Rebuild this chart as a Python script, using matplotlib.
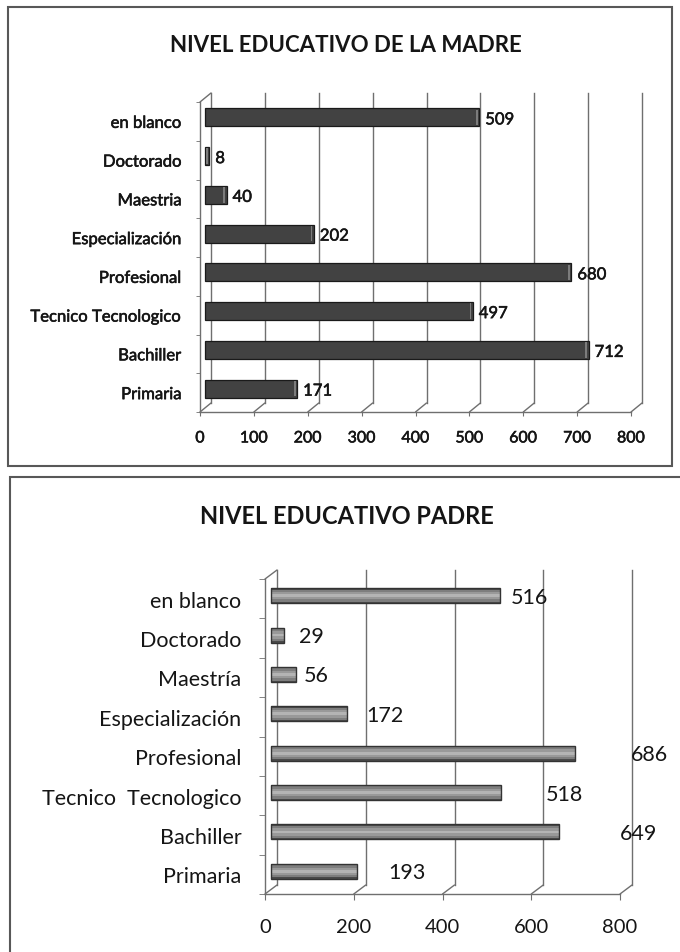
import matplotlib.pyplot as plt
import matplotlib.transforms as mtransforms
import matplotlib.patheffects as pe
from matplotlib.patches import Rectangle

plt.rcParams['font.family'] = ['Lato', 'DejaVu Sans']

# Data (bottom to top)
categories_madre = ['Primaria', 'Bachiller', 'Tecnico Tecnologico', 'Profesional',
                    'Especialización', 'Maestria', 'Doctorado', 'en blanco']
values_madre = [171, 712, 497, 680, 202, 40, 8, 509]
ticks_madre = [0, 100, 200, 300, 400, 500, 600, 700, 800]

categories_padre = ['Primaria', 'Bachiller', 'Tecnico  Tecnologico', 'Profesional',
                    'Especialización', 'Maestría', 'Doctorado', 'en blanco']
values_padre = [193, 649, 518, 686, 172, 56, 29, 516]
ticks_padre = [0, 200, 400, 600, 800]

# the father chart has its value labels pushed away from the bars (pixels)
label_gap_padre = [32, 61, 45, 55, 19, 8, 15, 11]

W, H = 680, 953
fig = plt.figure(figsize=(W / 100, H / 100), dpi=100)
fig.patch.set_facecolor('white')
TXT = '#151515'
GRID = '#6f6f6f'
# the mother chart text is heavy, thicken regular glyphs a bit
HEAVY = [pe.withStroke(linewidth=0.4, foreground=TXT)]


def px_box(l, t, r, b):
    # pixel box (top-left origin) -> figure fraction
    return [l / W, 1 - b / H, (r - l) / W, (b - t) / H]


def shift(ax, dx, dy):
    # offset in pixels, used for the fake 3D depth
    return ax.transData + mtransforms.ScaledTranslation(dx / 100, dy / 100, fig.dpi_scale_trans)


def panel(box, cats, ticks, depth, fs_cat, fs_tick, effects, ypad, xpad, tick_len):
    ax = fig.add_axes(px_box(*box))
    n = len(cats)
    ax.set_xlim(0, ticks[-1])
    ax.set_ylim(-0.5, n - 0.5)
    ax.patch.set_alpha(0)
    for s in ['top', 'right']:
        ax.spines[s].set_visible(False)
    for s in ['left', 'bottom']:
        ax.spines[s].set_color(GRID)
        ax.spines[s].set_linewidth(1.0)

    dx, dy = depth
    # back wall gridlines
    for v in ticks:
        ax.plot([v, v], [-0.5, n - 0.5], color=GRID, lw=1.0, transform=shift(ax, dx, dy),
                clip_on=False, zorder=1)
        # floor diagonals from front ticks to back wall
        ax.annotate('', xy=(v, -0.5), xytext=(dx, dy), textcoords='offset pixels',
                    arrowprops=dict(arrowstyle='-', color=GRID, lw=1.0, shrinkA=0, shrinkB=0),
                    annotation_clip=False)
    ax.annotate('', xy=(0, n - 0.5), xytext=(dx, dy), textcoords='offset pixels',
                arrowprops=dict(arrowstyle='-', color=GRID, lw=1.0, shrinkA=0, shrinkB=0),
                annotation_clip=False)

    ax.set_yticks(range(n))
    ax.set_yticklabels(cats, fontsize=fs_cat, color=TXT, path_effects=effects)
    ax.set_yticks([i - 0.5 for i in range(n + 1)], minor=True)
    ax.tick_params(axis='y', which='major', length=0, pad=ypad)
    ax.tick_params(axis='y', which='minor', length=tick_len, color=GRID, direction='out')
    ax.set_xticks(ticks)
    ax.set_xticklabels([str(t) for t in ticks], fontsize=fs_tick, color=TXT, path_effects=effects)
    ax.tick_params(axis='x', length=tick_len, color=GRID, pad=xpad)
    return ax


# ---------------- top chart: madre ----------------
fig.add_artist(Rectangle((8 / W, 1 - 467 / H), 664 / W, 459 / H, transform=fig.transFigure,
                         fill=False, ec='#585858', lw=1.5))
fig.text(346 / W, 1 - 45 / H, 'NIVEL EDUCATIVO DE LA MADRE', ha='center', va='center',
         fontsize=16, weight='bold', color=TXT)

ax1 = panel((200, 103, 631, 413), categories_madre, ticks_madre, (11, 9),
            12, 11.5, HEAVY, 13.5, 11, 3)
yb = list(range(len(values_madre)))
ax1.barh(yb, values_madre, height=0.46, color='#424242', edgecolor='#1a1a1a', lw=0.9,
         transform=shift(ax1, 5, 4), zorder=3)
ax1.barh(yb, [3] * len(yb), left=[v - 6 for v in values_madre], height=0.40, color='#7c7c7c',
         lw=0, transform=shift(ax1, 5, 4), zorder=4)
for i, v in enumerate(values_madre):
    ax1.text(v, i, str(v), ha='left', va='center', fontsize=12, color=TXT,
             path_effects=HEAVY, transform=shift(ax1, 11, 2), zorder=5)

# ---------------- bottom chart: padre ----------------
fig.add_artist(Rectangle((10 / W, -0.05), 1.0, 1 - 478 / H + 0.05, transform=fig.transFigure,
                         fill=False, ec='#585858', lw=1.5))
fig.text(347 / W, 1 - 517 / H, 'NIVEL EDUCATIVO PADRE', ha='center', va='center',
         fontsize=17, weight='bold', color=TXT)

ax2 = panel((265, 580, 620, 895), categories_padre, ticks_padre, (12, 9),
            15.5, 14.5, None, 17, 13, 4)
yb = list(range(len(values_padre)))
# cylinder-like shading with stacked bars
for h, c in [(0.38, '#4a4a4a'), (0.31, '#7e7e7e'), (0.19, '#999999'), (0.07, '#b4b4b4')]:
    ax2.barh(yb, values_padre, height=h, color=c, lw=0, transform=shift(ax2, 6, 3), zorder=3)
ax2.barh(yb, values_padre, height=0.38, fill=False, edgecolor='#333333', lw=1.0,
         transform=shift(ax2, 6, 3), zorder=4)
for i, v in enumerate(values_padre):
    ax2.text(v, i, str(v), ha='left', va='center', fontsize=15.5, color=TXT,
             transform=shift(ax2, 6 + label_gap_padre[i], 2), zorder=5)

fig.savefig('out.png', dpi=100)
